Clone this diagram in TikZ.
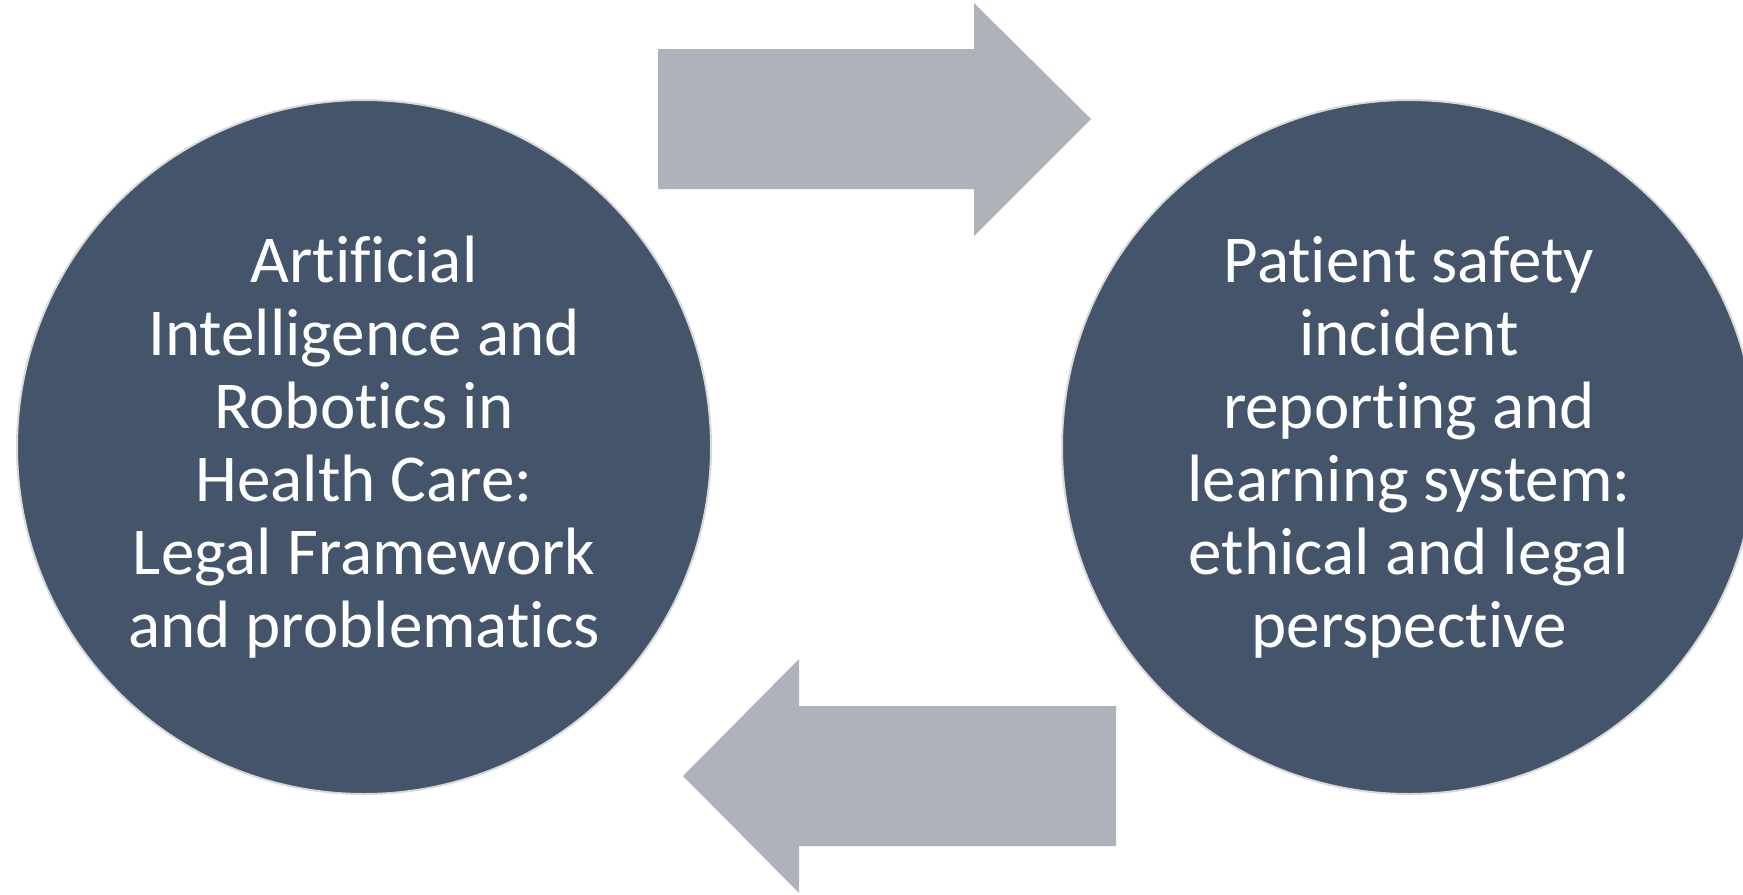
\documentclass[tikz,border=0pt]{standalone}
\usepackage{fontspec}
\usepackage{xcolor}
\usepackage{tikz}
\setmainfont{Carlito}[Ligatures={NoCommon}]
\definecolor{slate}{HTML}{44546A}
\definecolor{rimgray}{HTML}{D9D9D9}
\definecolor{arrowgray}{HTML}{AFB2BA}

\begin{document}
\begin{tikzpicture}[x=0.5pt, y=-0.5pt,
    bubble/.style={circle, fill=slate, draw=rimgray, line width=1pt, minimum size=347pt, inner sep=0pt,
        text=white, align=center, font=\fontsize{33.5}{36.5}\selectfont}]
    \useasboundingbox (0, 0) rectangle (1743, 894);
    \clip (0, 0) rectangle (1743, 894);
    \node [bubble] (ai) at (364, 447) {Artificial\\Intelligence and\\Robotics in\\Health Care:\\Legal Framework\\and problematics};
    \node [bubble] (ps) at (1409, 447) {Patient safety\\incident\\reporting and\\learning system:\\ethical and legal\\perspective};
    % block arrows between the two circles
    \fill [arrowgray] (658, 49) -- (974, 49) -- (974, 3) -- (1091, 119) -- (974, 236) -- (974, 189) -- (658, 189) -- cycle;
    \fill [arrowgray] (1116, 706) -- (799, 706) -- (799, 659) -- (683, 776) -- (799, 893) -- (799, 846) -- (1116, 846) -- cycle;
\end{tikzpicture}
\end{document}
